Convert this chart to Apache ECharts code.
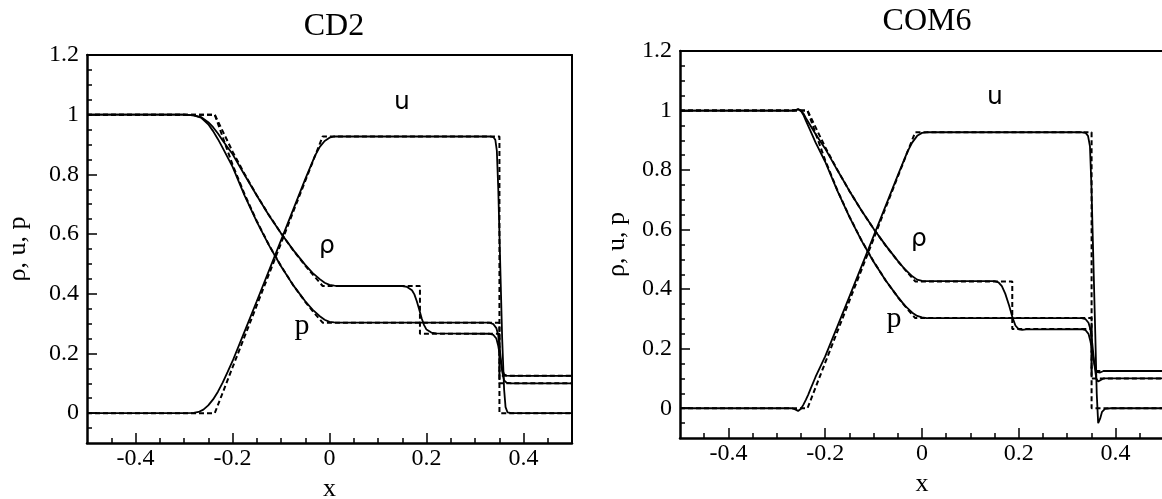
<!DOCTYPE html>
<html>
<head>
<meta charset="utf-8">
<script src="https://cdn.jsdelivr.net/npm/echarts@6/dist/echarts.min.js"></script>
<style>
  html, body { margin: 0; padding: 0; background: #fff; }
  #chart { width: 1162px; height: 499px; }
</style>
</head>
<body>
<div id="chart"></div>
<script>
// panel titles
var panelTitles = ["CD2", "COM6"];

// tick values
var xMajorTicks = [-0.4, -0.2, 0, 0.2, 0.4];
var xMinorTicks = [-0.45, -0.35, -0.3, -0.25, -0.15, -0.1, -0.05, 0.05, 0.1, 0.15, 0.25, 0.3, 0.35, 0.45];
var yMajorTicks = [0, 0.2, 0.4, 0.6, 0.8, 1, 1.2];
var yMinorTicks = [-0.05, 0.05, 0.1, 0.15, 0.25, 0.3, 0.35, 0.45, 0.5, 0.55, 0.65, 0.7, 0.75, 0.85, 0.9, 0.95, 1.05, 1.1, 1.15];

// exact solution (dashed), same in both panels
var exactX   = [-0.5, -0.2366, -0.2, -0.175, -0.15, -0.125, -0.1, -0.075, -0.05, -0.03, -0.0141, 0.1865, 0.1865, 0.3504, 0.3504, 0.5];
var exactRho = [1, 1, 0.877, 0.801, 0.730, 0.664, 0.603, 0.546, 0.494, 0.456, 0.426, 0.426, 0.266, 0.266, 0.125, 0.125];
var exactU   = [0, 0, 0.153, 0.257, 0.361, 0.465, 0.569, 0.674, 0.778, 0.861, 0.927, 0.927, 0.927, 0.927, 0, 0];
var exactP   = [1, 1, 0.833, 0.733, 0.644, 0.564, 0.493, 0.429, 0.373, 0.333, 0.303, 0.303, 0.303, 0.303, 0.1, 0.1];

// CD2 numerical solution
var cd2RhoX = [-0.5, -0.3, -0.28, -0.265, -0.25, -0.24, -0.23, -0.22, -0.2, -0.175, -0.15, -0.125, -0.1, -0.075, -0.05, -0.035, -0.02, -0.01, 0, 0.01, 0.02, 0.15, 0.16, 0.17, 0.175, 0.18, 0.185, 0.19, 0.195, 0.2, 0.21, 0.22, 0.33, 0.338, 0.344, 0.348, 0.352, 0.356, 0.36, 0.365, 0.375, 0.5];
var cd2Rho  = [1, 1, 0.998, 0.992, 0.975, 0.958, 0.937, 0.913, 0.868, 0.798, 0.729, 0.663, 0.603, 0.547, 0.497, 0.470, 0.449, 0.437, 0.430, 0.427, 0.426, 0.426, 0.423, 0.412, 0.398, 0.375, 0.347, 0.318, 0.295, 0.280, 0.270, 0.267, 0.266, 0.262, 0.250, 0.225, 0.185, 0.148, 0.130, 0.126, 0.125, 0.125];
var cd2UX   = [-0.5, -0.3, -0.28, -0.27, -0.26, -0.25, -0.24, -0.23, -0.22, -0.21, -0.2, -0.175, -0.15, -0.1, -0.05, -0.03, -0.02, -0.01, 0, 0.01, 0.33, 0.338, 0.342, 0.345, 0.348, 0.352, 0.356, 0.36, 0.363, 0.367, 0.375, 0.5];
var cd2U    = [0, 0, 0.001, 0.004, 0.012, 0.026, 0.046, 0.072, 0.103, 0.138, 0.174, 0.274, 0.375, 0.579, 0.784, 0.862, 0.892, 0.912, 0.923, 0.927, 0.927, 0.925, 0.915, 0.88, 0.75, 0.5, 0.25, 0.08, 0.02, 0.003, 0, 0];
var cd2PX   = [-0.5, -0.3, -0.28, -0.265, -0.25, -0.24, -0.23, -0.22, -0.2, -0.175, -0.15, -0.125, -0.1, -0.075, -0.05, -0.035, -0.02, -0.01, 0, 0.01, 0.02, 0.33, 0.338, 0.344, 0.348, 0.352, 0.356, 0.36, 0.365, 0.375, 0.5];
var cd2P    = [1, 1, 0.998, 0.990, 0.968, 0.945, 0.918, 0.888, 0.826, 0.729, 0.642, 0.563, 0.492, 0.429, 0.375, 0.347, 0.325, 0.313, 0.306, 0.304, 0.303, 0.303, 0.298, 0.285, 0.260, 0.200, 0.140, 0.110, 0.102, 0.1, 0.1];

// COM6 numerical solution
var com6RhoX = [-0.5, -0.27, -0.262, -0.256, -0.25, -0.245, -0.24, -0.23, -0.22, -0.2, -0.175, -0.15, -0.125, -0.1, -0.075, -0.05, -0.035, -0.02, -0.01, 0, 0.01, 0.15, 0.158, 0.165, 0.172, 0.18, 0.187, 0.193, 0.2, 0.207, 0.215, 0.33, 0.338, 0.344, 0.348, 0.352, 0.356, 0.36, 0.364, 0.368, 0.375, 0.5];
var com6Rho  = [1, 1, 1.001, 1.005, 1.0, 0.99, 0.975, 0.948, 0.921, 0.872, 0.800, 0.730, 0.664, 0.603, 0.547, 0.495, 0.466, 0.443, 0.432, 0.428, 0.427, 0.427, 0.423, 0.410, 0.385, 0.345, 0.305, 0.278, 0.265, 0.263, 0.265, 0.266, 0.262, 0.250, 0.225, 0.190, 0.150, 0.122, 0.116, 0.120, 0.125, 0.125];
var com6UX   = [-0.5, -0.27, -0.262, -0.256, -0.25, -0.245, -0.24, -0.235, -0.23, -0.22, -0.21, -0.2, -0.175, -0.15, -0.1, -0.05, -0.03, -0.02, -0.01, 0, 0.01, 0.33, 0.338, 0.343, 0.347, 0.35, 0.354, 0.358, 0.361, 0.364, 0.368, 0.372, 0.378, 0.39, 0.5];
var com6U    = [0, 0, -0.004, -0.009, -0.002, 0.012, 0.028, 0.046, 0.066, 0.105, 0.140, 0.174, 0.274, 0.375, 0.578, 0.782, 0.862, 0.893, 0.915, 0.925, 0.927, 0.927, 0.925, 0.915, 0.88, 0.75, 0.5, 0.25, 0.05, -0.05, -0.035, -0.012, -0.002, 0, 0];
var com6PX   = [-0.5, -0.27, -0.262, -0.256, -0.25, -0.245, -0.24, -0.23, -0.22, -0.2, -0.175, -0.15, -0.125, -0.1, -0.075, -0.05, -0.035, -0.02, -0.01, 0, 0.01, 0.33, 0.338, 0.344, 0.348, 0.352, 0.356, 0.36, 0.364, 0.368, 0.375, 0.5];
var com6P    = [1, 1, 1.001, 1.004, 0.998, 0.985, 0.966, 0.930, 0.893, 0.828, 0.731, 0.643, 0.563, 0.492, 0.429, 0.374, 0.344, 0.321, 0.310, 0.305, 0.303, 0.303, 0.299, 0.287, 0.265, 0.215, 0.150, 0.100, 0.090, 0.095, 0.1, 0.1];

var SERIF = "'Liberation Serif', 'DejaVu Serif', serif";
var SANS = "'DejaVu Sans', sans-serif";

function zip(xs, ys) {
  return xs.map(function (x, i) { return [x, ys[i]]; });
}

// grid boxes in pixels
var grids = [
  { left: 87, right: 590, top: 55, bottom: 56, nameGap: 56 },
  { left: 680, right: -2, top: 51, bottom: 61, nameGap: 50 }
];

var xAxes = [];
var yAxes = [];
var series = [];

grids.forEach(function (g, gi) {
  var tick = { show: true, inside: true, lineStyle: { color: "#000", width: 1.5 } };
  // bottom axis with major ticks + labels
  xAxes.push({
    gridIndex: gi, type: "value", position: "bottom", min: -0.5, max: 0.5,
    name: "x", nameLocation: "middle", nameGap: 29,
    nameTextStyle: { fontFamily: SERIF, fontSize: 26, color: "#000" },
    axisLine: { onZero: false, lineStyle: { color: "#000", width: 2.5 } },
    axisTick: Object.assign({}, tick, { length: 10, customValues: xMajorTicks }),
    axisLabel: { customValues: xMajorTicks, margin: 4, fontFamily: SERIF, fontSize: 24, color: "#000" },
    splitLine: { show: false }
  });
  // minor ticks only
  xAxes.push({
    gridIndex: gi, type: "value", position: "bottom", min: -0.5, max: 0.5,
    axisLine: { show: false, onZero: false },
    axisTick: Object.assign({}, tick, { length: 5, customValues: xMinorTicks }),
    axisLabel: { show: false },
    splitLine: { show: false }
  });
  // top frame line
  xAxes.push({
    gridIndex: gi, type: "value", position: "top", min: -0.5, max: 0.5,
    axisLine: { onZero: false, lineStyle: { color: "#000", width: 2 } },
    axisTick: { show: false }, axisLabel: { show: false }, splitLine: { show: false }
  });

  yAxes.push({
    gridIndex: gi, type: "value", position: "left", min: -0.1, max: 1.2,
    name: "\u03c1, u, p", nameLocation: "middle", nameGap: g.nameGap,
    nameTextStyle: { fontFamily: SERIF, fontSize: 26, color: "#000" },
    axisLine: { onZero: false, lineStyle: { color: "#000", width: 2.5 } },
    axisTick: Object.assign({}, tick, { length: 10, customValues: yMajorTicks }),
    axisLabel: { customValues: yMajorTicks, margin: 8, fontFamily: SERIF, fontSize: 24, color: "#000" },
    splitLine: { show: false }
  });
  yAxes.push({
    gridIndex: gi, type: "value", position: "left", min: -0.1, max: 1.2,
    axisLine: { show: false, onZero: false },
    axisTick: Object.assign({}, tick, { length: 5, customValues: yMinorTicks }),
    axisLabel: { show: false },
    splitLine: { show: false }
  });
  // right frame line
  yAxes.push({
    gridIndex: gi, type: "value", position: "right", min: -0.1, max: 1.2,
    axisLine: { show: gi === 0, onZero: false, lineStyle: { color: "#000", width: 2 } },
    axisTick: { show: false }, axisLabel: { show: false }, splitLine: { show: false }
  });
});

function addLine(gi, data, dashed) {
  series.push({
    type: "line",
    xAxisIndex: gi * 3,
    yAxisIndex: gi * 3,
    data: data,
    showSymbol: false,
    symbol: "none",
    silent: true,
    z: dashed ? 2 : 3,
    lineStyle: { color: "#000", width: dashed ? 2 : 1.8, type: dashed ? [5, 3] : "solid" }
  });
}

[0, 1].forEach(function (gi) {
  addLine(gi, zip(exactX, exactRho), true);
  addLine(gi, zip(exactX, exactU), true);
  addLine(gi, zip(exactX, exactP), true);
});
addLine(0, zip(cd2RhoX, cd2Rho), false);
addLine(0, zip(cd2UX, cd2U), false);
addLine(0, zip(cd2PX, cd2P), false);
addLine(1, zip(com6RhoX, com6Rho), false);
addLine(1, zip(com6UX, com6U), false);
addLine(1, zip(com6PX, com6P), false);

var option = {
  backgroundColor: "#fff",
  animation: false,
  title: [
    { text: panelTitles[0], left: 329, top: 6, textAlign: "center",
      textStyle: { fontFamily: SERIF, fontSize: 32, fontWeight: "normal", color: "#000" } },
    { text: panelTitles[1], left: 922, top: 1, textAlign: "center",
      textStyle: { fontFamily: SERIF, fontSize: 32, fontWeight: "normal", color: "#000" } }
  ],
  grid: grids.map(function (g) {
    return { left: g.left, right: g.right, top: g.top, bottom: g.bottom, outerBoundsMode: "none" };
  }),
  xAxis: xAxes,
  yAxis: yAxes,
  series: series,
  graphic: [
    { type: "text", x: 402, y: 102, style: { text: "u", font: "25px " + SANS, fill: "#000", align: "center", verticalAlign: "middle" } },
    { type: "text", x: 327, y: 246, style: { text: "\u03c1", font: "25px " + SANS, fill: "#000", align: "center", verticalAlign: "middle" } },
    { type: "text", x: 302, y: 326, style: { text: "p", font: "30px " + SERIF, fill: "#000", align: "center", verticalAlign: "middle" } },
    { type: "text", x: 995, y: 97, style: { text: "u", font: "25px " + SANS, fill: "#000", align: "center", verticalAlign: "middle" } },
    { type: "text", x: 919, y: 239, style: { text: "\u03c1", font: "25px " + SANS, fill: "#000", align: "center", verticalAlign: "middle" } },
    { type: "text", x: 894, y: 319, style: { text: "p", font: "30px " + SERIF, fill: "#000", align: "center", verticalAlign: "middle" } }
  ]
};

var chart = echarts.init(document.getElementById("chart"));
chart.setOption(option);
</script>
</body>
</html>
